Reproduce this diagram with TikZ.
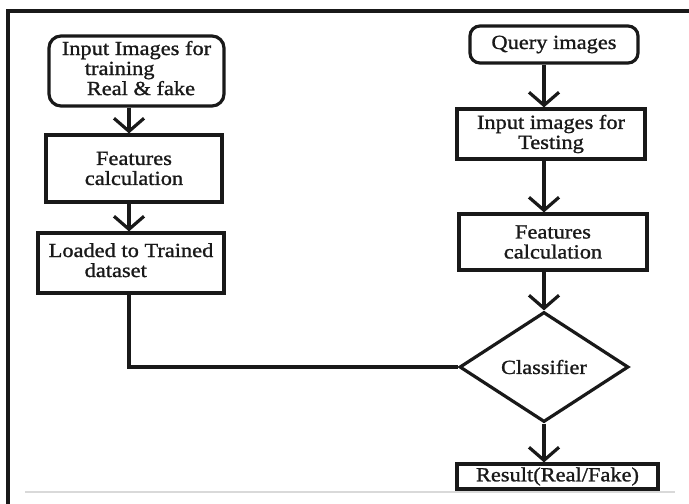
\documentclass[tikz,border=0pt]{standalone}
\usepackage{fontspec}
\setmainfont{Liberation Serif}[FakeStretch=1.12,FakeBold=1.2]
\usetikzlibrary{arrows.meta,shapes.geometric,calc}
\newcommand{\leftlines}[1]{\begin{tabular}{@{}l@{}}#1\end{tabular}}
\begin{document}
\begin{tikzpicture}[x=1pt,y=-1pt,
  ink/.style={draw=black!90, line width=3.2pt},
  txt/.style={font=\fontsize{20}{20}\selectfont, text=black!90},
  box/.style={ink, txt, rectangle, inner sep=0pt},
  rbox/.style={box, rounded corners=12pt},
  arr/.style={line width=3.2pt, draw=black!90, -{Straight Barb[length=13pt,width=30pt]}},
]
\useasboundingbox (0,0) rectangle (689,504);
% frame and rule
\draw[gray!30, line width=1.5pt] (25,492) -- (675,492);
\draw[line width=3.2pt, black!90] (689,11) -- (8,11) -- (8,504);

% left column
\node[rbox, minimum width=175pt, minimum height=70pt] (n1) at (136.5,71)
  {\leftlines{Input Images for\\\hspace*{23pt}training\\\hspace*{25pt}Real \& fake}};
\node[box, minimum width=176pt, minimum height=67pt, align=center] (n2) at (134,168.5)
  {Features\\calculation};
\node[box, minimum width=186pt, minimum height=60pt] (n3) at (131,263)
  {\leftlines{Loaded to Trained\\\hspace*{36pt}dataset}};

% right column
\node[rbox, rounded corners=10pt, minimum width=168pt, minimum height=37pt] (n4) at (554,44.5)
  {Query images};
\node[box, minimum width=188pt, minimum height=50pt, align=center] (n5) at (551,134)
  {Input images for\\Testing};
\node[box, minimum width=188pt, minimum height=56pt, align=center] (n6) at (553,242)
  {Features\\calculation};
\node[ink, txt, diamond, minimum width=169pt, minimum height=110pt, inner sep=0pt] (cls) at (544,367)
  {Classifier};
\node[box, minimum width=201pt, minimum height=25pt] (n7) at (557.5,476.5)
  {Result(Real/Fake)};

\coordinate (lx) at (129,0);

% connectors
\draw[arr] (n1.south -| lx) -- (n2.north -| lx);
\draw[arr] (n2.south -| lx) -- (n3.north -| lx);
\draw[ink] (n3.south -| lx) |- (cls.west);
\draw[arr] (n4.south -| cls) -- (n5.north -| cls);
\draw[arr] (n5.south -| cls) -- (n6.north -| cls);
\draw[arr] (n6.south -| cls) -- (cls.north);
\draw[arr] (cls.south) -- (n7.north -| cls);
\end{tikzpicture}
\end{document}
